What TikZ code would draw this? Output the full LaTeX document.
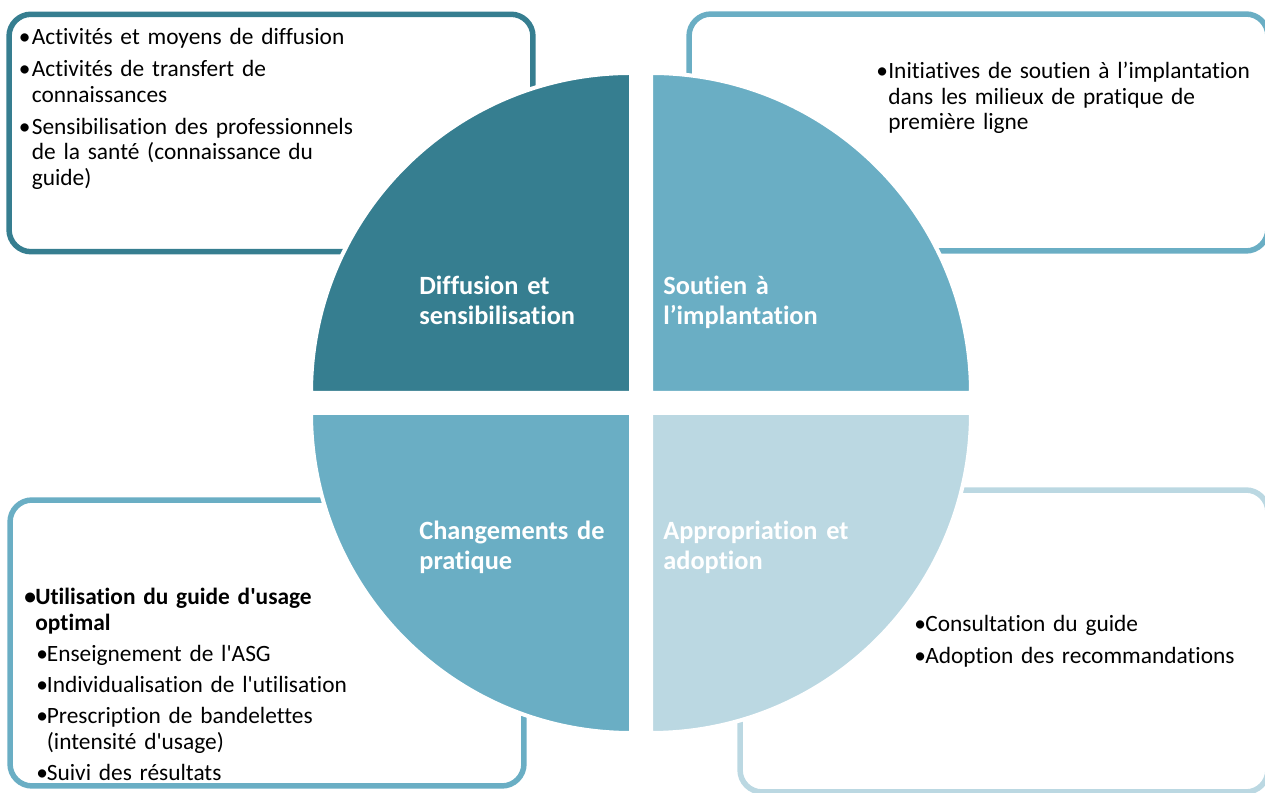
\documentclass[tikz,border=0pt]{standalone}
\usepackage{fontspec}
\setmainfont{Carlito}[Ligatures=NoCommon]
\usepackage{tikz}
\usetikzlibrary{positioning}
\definecolor{bleufonce}{HTML}{367E90}
\definecolor{bleumoyen}{HTML}{6AAEC4}
\definecolor{bleupale}{HTML}{BBD8E2}
\tikzstyle{cadre} = [rectangle, rounded corners=0.44cm, line width=0.11cm]
\tikzstyle{quart} = [draw=white, line width=0.08cm]
\tikzstyle{liste} = [anchor=base west, inner sep=0pt, text width=9cm, align=left, font=\fontsize{13.3}{14.5}\selectfont]
\tikzstyle{titre} = [anchor=base west, inner sep=0pt, text width=5cm, align=left, text=white, font=\bfseries\fontsize{15}{17}\selectfont]

\newlength\pucew
\newcommand{\puce}[2][0pt]{\noindent\leftskip=#1\hangindent=\pucew\hangafter=1\makebox[\pucew][l]{•}#2\par}

\begin{document}
\begin{tikzpicture}[x=0.02cm, y=0.02cm]
\useasboundingbox (0,0) rectangle (1265,793);

% Boxes
\node (cadreDiffusion) [cadre, draw=bleufonce, minimum width=10.48cm, minimum height=4.75cm] at (271,660) {};
\node (cadreSoutien) [cadre, draw=bleumoyen, minimum width=11.58cm, minimum height=4.74cm] at (978.5,660.5) {};
\node (cadreChangements) [cadre, draw=bleumoyen, minimum width=10.28cm, minimum height=5.72cm] at (267,150) {};
\node (cadreAppropriation) [cadre, draw=bleupale, minimum width=10.56cm, minimum height=6.04cm] at (1004,152) {};

% Quadrants
\path[quart, fill=bleufonce] (631,400) -- (311,400) arc[start angle=180, end angle=90, radius=320] -- cycle;
\path[quart, fill=bleumoyen] (651,400) -- (651,720) arc[start angle=90, end angle=0, radius=320] -- cycle;
\path[quart, fill=bleumoyen] (631,380) -- (631,60) arc[start angle=270, end angle=180, radius=320] -- cycle;
\path[quart, fill=bleupale] (651,380) -- (971,380) arc[start angle=0, end angle=-90, radius=320] -- cycle;

% Labels
\node (diffusion) [titre] at (419,498) {Diffusion et\\sensibilisation};
\node (soutien) [titre] at (663,498) {Soutien à\\l’implantation};
\node (changements) [titre] at (419,253) {Changements de\\pratique};
\node (appropriation) [titre] at (663,253) {Appropriation et\\adoption};

% Lists
\node (listeDiffusion) [liste] at (18.5,748) {\setlength{\parskip}{3.6pt}\setlength{\pucew}{0.26cm}%
\puce{Activités et moyens de diffusion}
\puce{Activités de transfert de\newline connaissances}
\puce{Sensibilisation des professionnels\newline de la santé (connaissance du\newline guide)}};
\node (listeSoutien) [liste] at (876,714) {\setlength{\pucew}{0.24cm}%
\puce{Initiatives de soutien à l’implantation\newline dans les milieux de pratique de\newline première ligne}};
\node (listeChangements) [liste] at (24,188) {\setlength{\parskip}{3.2pt}\setlength{\pucew}{0.22cm}%
{\bfseries\puce{Utilisation du guide d\textquotesingle usage\newline optimal}}\setlength{\pucew}{0.21cm}%
\puce[0.24cm]{Enseignement de l\textquotesingle ASG}
\puce[0.24cm]{Individualisation de l\textquotesingle utilisation}
\puce[0.24cm]{Prescription de bandelettes\newline (intensité d\textquotesingle usage)}
\puce[0.24cm]{Suivi des résultats}};
\node (listeAppropriation) [liste] at (914,161) {\setlength{\parskip}{3.2pt}\setlength{\pucew}{0.22cm}%
\puce{Consultation du guide}
\puce{Adoption des recommandations}};

\end{tikzpicture}
\end{document}
